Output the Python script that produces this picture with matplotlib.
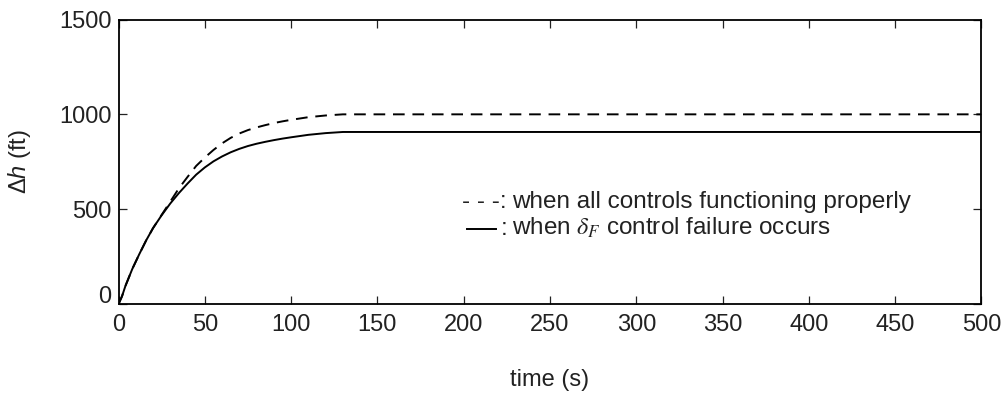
import matplotlib
matplotlib.use("Agg")
import matplotlib.pyplot as plt
import matplotlib.transforms as mtransforms
from matplotlib.lines import Line2D

plt.rcParams["font.family"] = ["Liberation Sans", "DejaVu Sans"]
plt.rcParams["mathtext.fontset"] = "custom"
plt.rcParams["mathtext.rm"] = "Liberation Sans"
plt.rcParams["mathtext.it"] = "Liberation Sans:italic"

# time (s)
time_s = [0, 2, 4, 8, 12, 16, 20, 25, 30, 35, 40, 45, 50, 55, 60, 65, 70,
          75, 80, 85, 90, 95, 100, 110, 120, 130, 500]
# delta h (ft), all controls functioning properly
dh_normal = [0, 40, 95, 185, 262, 335, 400, 470, 540, 610, 670, 728, 772,
             812, 847, 876, 899, 917, 931, 943, 954, 963, 971, 985, 994,
             1000, 1000]
# delta h (ft), delta_F control failure
dh_failure = [0, 40, 95, 185, 262, 335, 400, 468, 530, 585, 635, 682, 720,
              752, 778, 800, 818, 833, 845, 855, 864, 872, 879, 892, 901,
              907, 907]

x_ticks = [0, 50, 100, 150, 200, 250, 300, 350, 400, 450, 500]
y_ticks = [0, 500, 1000, 1500]

INK = "#222222"

fig = plt.figure(figsize=(10.06, 3.94), dpi=100)
ax = fig.add_axes([0.1178, 0.2284, 0.8578, 0.7221])

ax.plot(time_s, dh_normal, color="black", lw=1.4, ls=(0, (6, 4)))
ax.plot(time_s, dh_failure, color="black", lw=1.4, ls="-")

ax.set_xlim(0, 500)
ax.set_ylim(0, 1500)
ax.set_xticks(x_ticks)
ax.set_yticks(y_ticks)
ax.tick_params(direction="in", length=6, width=0.9, top=True, right=True,
               labelsize=17, colors=INK, pad=5)
ax.tick_params(axis="x", pad=7)
for sp in ax.spines.values():
    sp.set_linewidth(1.3)

# MATLAB-style: the bottom "0" label sits a bit higher
lab0 = ax.yaxis.get_major_ticks()[0].label1
lab0.set_transform(lab0.get_transform()
                   + mtransforms.ScaledTranslation(0, 10 / 100, fig.dpi_scale_trans))

ax.set_xlabel("time (s)", fontsize=17, color=INK)
ax.xaxis.set_label_coords(0.5, -0.228)
ax.set_ylabel("\u0394$h$ (ft)", fontsize=17, color=INK)
ax.yaxis.set_label_coords(-0.099, 0.5)

# text legend
y1, y2 = 1 - 208 / 394, 1 - 235 / 394
fig.text(507 / 1006, y1, "- - -:", fontsize=17.5, color=INK,
         ha="right", va="baseline")
fig.text(512 / 1006, y1, "when all controls functioning properly",
         fontsize=17.5, color=INK, ha="left", va="baseline")
fig.add_artist(Line2D([467 / 1006, 496 / 1006], [1 - 229 / 394] * 2,
                      color="black", lw=1.4, transform=fig.transFigure))
fig.text(507 / 1006, y2, ":", fontsize=17.5, color=INK,
         ha="right", va="baseline")
fig.text(512 / 1006, y2, r"when $\delta_F$ control failure occurs",
         fontsize=17.5, color=INK, ha="left", va="baseline",
         math_fontfamily="stix")

fig.savefig("out.png", dpi=100)
